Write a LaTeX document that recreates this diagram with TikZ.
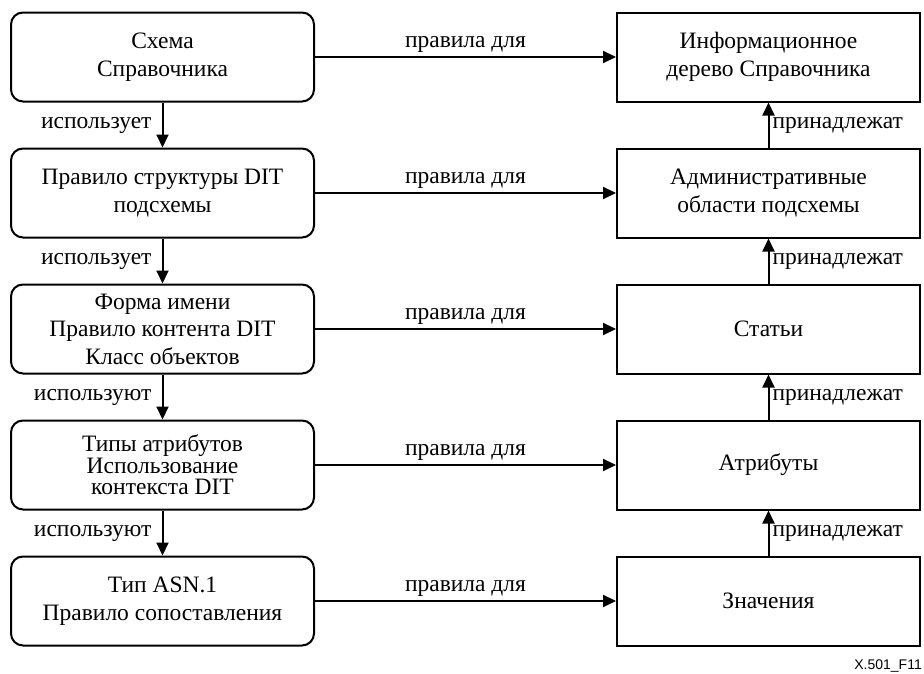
\documentclass[tikz,border=0pt]{standalone}
\usepackage{fontspec}
\setmainfont{Liberation Serif}
\newfontfamily\tagfont{Liberation Sans}
\usetikzlibrary{arrows.meta}
\begin{document}
\begin{tikzpicture}[x=1pt,y=-1pt,
  every node/.style={font=\fontsize{23.5}{27.5}\selectfont},
  schemabox/.style={draw, line width=2pt, rounded corners=12pt, align=center,
    minimum width=303pt, minimum height=89pt, inner sep=0pt},
  treebox/.style={draw, line width=2pt, align=center,
    minimum width=303pt, minimum height=89pt, inner sep=0pt},
  link/.style={line width=2pt, -{Triangle[length=13pt,width=12pt]}},
  uses/.style={left, inner sep=10pt},
  belongs/.style={right, inner sep=3pt},
  rulefor/.style={above, inner sep=3pt, yshift=1pt}
]
\useasboundingbox (0,0) rectangle (924,673);

% schema side
\node[schemabox] (s1) at (162.5,57)  {Схема\\Справочника};
\node[schemabox] (s2) at (162.5,193) {Правило структуры DIT\\подсхемы};
\node[schemabox] (s3) at (162.5,329) {Форма имени\\Правило контента DIT\\Класс объектов};
\node[schemabox, font=\fontsize{23.5}{21.5}\selectfont] (s4) at (162.5,465) {Типы атрибутов\\Использование\\контекста DIT};
\node[schemabox] (s5) at (162.5,601) {Тип ASN.1\\Правило сопоставления};

% directory side
\node[treebox] (d1) at (768.5,57)  {Информационное\\дерево Справочника};
\node[treebox] (d2) at (768.5,193) {Административные\\области подсхемы};
\node[treebox] (d3) at (768.5,329) {Статьи};
\node[treebox] (d4) at (768.5,465) {Атрибуты};
\node[treebox] (d5) at (768.5,601) {Значения};

% "uses" chain
\draw[link] (s1) -- node[uses] {использует} (s2);
\draw[link] (s2) -- node[uses] {использует} (s3);
\draw[link] (s3) -- node[uses] {используют} (s4);
\draw[link] (s4) -- node[uses] {используют} (s5);

% "belongs to" chain
\draw[link] (d2) -- node[belongs] {принадлежат} (d1);
\draw[link] (d3) -- node[belongs] {принадлежат} (d2);
\draw[link] (d4) -- node[belongs] {принадлежат} (d3);
\draw[link] (d5) -- node[belongs] {принадлежат} (d4);

% rules between the two sides
\foreach \i in {1,...,5}
  \draw[link] (s\i) -- node[rulefor] {правила для} (d\i);

\node[anchor=base east, inner sep=0pt, font=\tagfont\fontsize{14}{16}\selectfont] (tag) at (922,669) {X.501\_F11};
\end{tikzpicture}
\end{document}
